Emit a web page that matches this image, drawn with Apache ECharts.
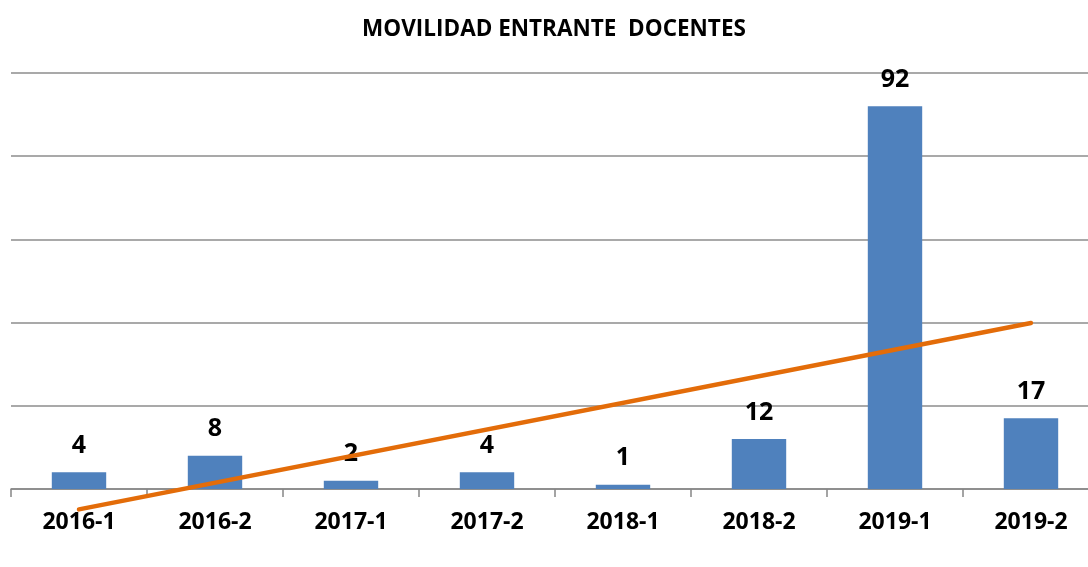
<!DOCTYPE html>
<html>
<head>
<meta charset="utf-8">
<script src="https://cdn.jsdelivr.net/npm/echarts@6/dist/echarts.min.js"></script>
<style>
  html, body { margin: 0; padding: 0; background: #fff; }
  #chart { width: 1088px; height: 567px; }
</style>
</head>
<body>
<div id="chart"></div>
<script>
var categories = ['2016-1', '2016-2', '2017-1', '2017-2', '2018-1', '2018-2', '2019-1', '2019-2'];
var docentes = [4, 8, 2, 4, 1, 12, 92, 17];
// linea de tendencia, extremos
var trendEnds = [-4.9, 39.9];
var yTicks = [0, 20, 40, 60, 80, 100];

var myChart = echarts.init(document.getElementById('chart'));

var trendData = categories.map(function (c, i) {
    if (i === 0) return trendEnds[0];
    if (i === categories.length - 1) return trendEnds[1];
    return '-';
});

var option = {
    animation: false,
    title: {
        text: 'MOVILIDAD ENTRANTE  DOCENTES',
        left: 549,
        textAlign: 'center',
        top: 13,
        textStyle: {
            fontFamily: 'Open Sans',
            fontWeight: 'bold',
            fontSize: 22.5,
            color: '#000'
        }
    },
    grid: {
        left: 11,
        width: 1088,
        top: 73,
        bottom: 78,
        outerBoundsMode: 'none'
    },
    xAxis: {
        type: 'category',
        data: categories,
        axisLine: { lineStyle: { color: '#868686', width: 1.5 } },
        axisTick: { show: true, length: 8, lineStyle: { color: '#868686', width: 1.5 } },
        axisLabel: {
            fontFamily: 'Open Sans',
            fontWeight: 'bold',
            fontSize: 23,
            color: '#000',
            margin: 22
        }
    },
    yAxis: {
        type: 'value',
        min: yTicks[0],
        max: yTicks[yTicks.length - 1],
        interval: 20,
        axisLabel: { show: false },
        axisLine: { show: false },
        axisTick: { show: false },
        splitLine: { lineStyle: { color: '#8c8c8c', width: 1.5 } }
    },
    series: [
        {
            name: 'Docentes',
            type: 'bar',
            data: docentes,
            barWidth: '40%',
            itemStyle: { color: '#4F81BD' },
            label: {
                show: true,
                position: 'top',
                distance: 14,
                fontFamily: 'Open Sans',
                fontWeight: 'bold',
                fontSize: 25,
                color: '#000'
            }
        },
        {
            name: 'Tendencia',
            type: 'line',
            data: trendData,
            connectNulls: true,
            clip: false,
            symbol: 'none',
            z: 3,
            lineStyle: { color: '#E36C09', width: 4.5, cap: 'round' }
        }
    ]
};
myChart.setOption(option);
</script>
</body>
</html>
